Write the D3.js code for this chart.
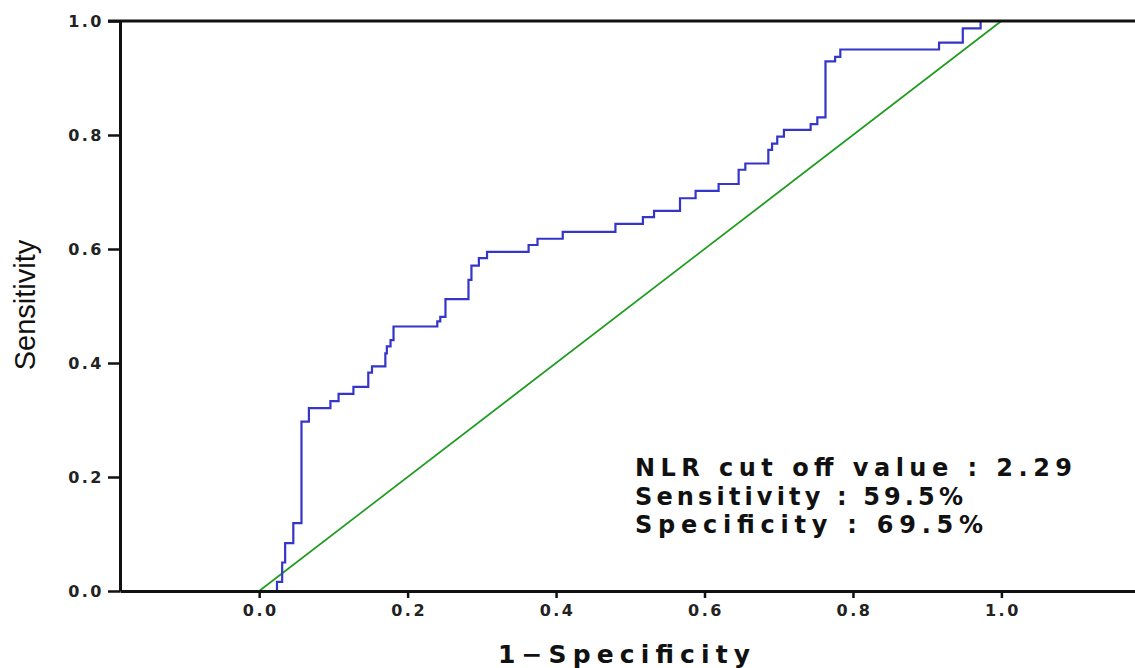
<!DOCTYPE html>
<html>
<head>
<meta charset="utf-8">
<script src="https://cdn.jsdelivr.net/npm/d3@7"></script>
<style>
  body { margin: 0; background: #fff; }
  svg { display: block; }
</style>
</head>
<body>
<div id="chart"></div>
<script>
// ROC curve corners (1 - specificity, sensitivity)
const fpr = [0.024, 0.031, 0.035, 0.046, 0.057, 0.067, 0.096, 0.107, 0.127, 0.147,
             0.152, 0.170, 0.172, 0.177, 0.181, 0.240, 0.244, 0.251, 0.282, 0.286,
             0.296, 0.307, 0.363, 0.375, 0.409, 0.480, 0.517, 0.532, 0.567, 0.588,
             0.619, 0.646, 0.655, 0.686, 0.691, 0.698, 0.707, 0.743, 0.752, 0.763,
             0.776, 0.783, 0.916, 0.948, 0.972, 1.0];
const tpr = [0.016, 0.050, 0.084, 0.119, 0.297, 0.321, 0.333, 0.346, 0.358, 0.383,
             0.394, 0.417, 0.429, 0.440, 0.464, 0.473, 0.481, 0.512, 0.546, 0.571,
             0.584, 0.595, 0.607, 0.618, 0.630, 0.644, 0.656, 0.667, 0.689, 0.702,
             0.714, 0.739, 0.750, 0.774, 0.785, 0.797, 0.809, 0.819, 0.831, 0.929,
             0.937, 0.950, 0.962, 0.987, 1.0, 1.0];
const refLine = [[0, 0], [1, 1]];
const tickValues = [0, 0.2, 0.4, 0.6, 0.8, 1.0];
const notes = ["NLR cut off value : 2.29", "Sensitivity : 59.5%", "Specificity : 69.5%"];

const width = 1135, height = 668;
const svg = d3.select("#chart").append("svg")
    .attr("width", width)
    .attr("height", height);

const x = d3.scaleLinear().domain([-0.1875, 1.18]).range([120, 1135]);
const y = d3.scaleLinear().domain([0, 1]).range([591, 21]);

// reference diagonal
svg.append("path")
    .datum(refLine)
    .attr("d", d3.line().x(d => x(d[0])).y(d => y(d[1])))
    .attr("fill", "none")
    .attr("stroke", "#1f9c1f")
    .attr("stroke-width", 1.7);

// ROC step curve
const pts = [[fpr[0], 0]].concat(fpr.map((v, i) => [v, tpr[i]]));
svg.append("path")
    .datum(pts)
    .attr("d", d3.line().x(d => x(d[0])).y(d => y(d[1])).curve(d3.curveStepAfter))
    .attr("fill", "none")
    .attr("stroke", "#3535c8")
    .attr("stroke-width", 2.2);

// axes
const yAxis = svg.append("g")
    .attr("transform", `translate(${x.range()[0]},0)`)
    .call(d3.axisLeft(y).tickValues(tickValues).tickFormat(d3.format(".1f"))
        .tickSize(12).tickSizeOuter(0).tickPadding(6));

const xAxis = svg.append("g")
    .attr("transform", `translate(0,${y(0)})`)
    .call(d3.axisBottom(x).tickValues(tickValues).tickFormat(d3.format(".1f"))
        .tickSize(7).tickSizeOuter(0).tickPadding(7));

svg.append("line")
    .attr("x1", x.range()[0] - 12).attr("x2", x.range()[1])
    .attr("y1", y(1)).attr("y2", y(1))
    .attr("stroke", "#111").attr("stroke-width", 3);

svg.selectAll(".domain").attr("stroke", "#111").attr("stroke-width", 3);
svg.selectAll(".tick line").attr("stroke", "#111").attr("stroke-width", 2.5);
svg.selectAll(".tick text")
    .style("font-family", "DejaVu Sans, sans-serif")
    .style("font-weight", "bold")
    .style("font-size", "16px")
    .style("letter-spacing", "2.5px")
    .attr("fill", "#222");
yAxis.selectAll(".tick text").attr("dx", "2px");
xAxis.selectAll(".tick text").attr("dx", "1px");

// axis titles
svg.append("text")
    .attr("transform", "translate(35,305) rotate(-90)")
    .attr("text-anchor", "middle")
    .style("font-family", "Liberation Sans, Arial, sans-serif")
    .style("font-size", "29px")
    .attr("fill", "#111")
    .text("Sensitivity");

svg.append("text")
    .attr("x", 498)
    .attr("y", 663)
    .attr("textLength", 252)
    .attr("lengthAdjust", "spacing")
    .style("font-family", "DejaVu Sans, sans-serif")
    .style("font-weight", "bold")
    .style("font-size", "25px")
    .attr("fill", "#111")
    .text("1\u2212Specificity");

// annotation
const noteLen = [437, 328, 348];
svg.append("g").selectAll("text")
    .data(notes)
    .join("text")
    .attr("x", 635)
    .attr("y", (d, i) => 476 + i * 28.5)
    .attr("textLength", (d, i) => noteLen[i])
    .attr("lengthAdjust", "spacing")
    .style("font-family", "DejaVu Sans, sans-serif")
    .style("font-weight", "bold")
    .style("font-size", "24px")
    .attr("fill", "#111")
    .text(d => d);
</script>
</body>
</html>
